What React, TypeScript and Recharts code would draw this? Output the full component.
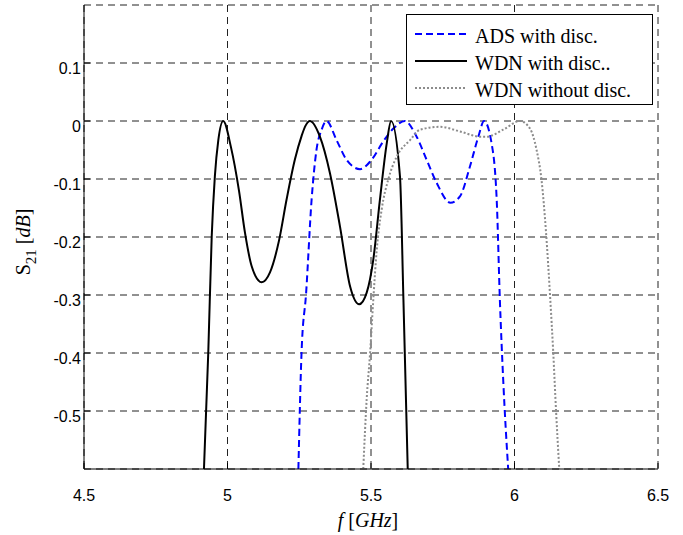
import React from "react"
import { LineChart, Line, XAxis, YAxis, CartesianGrid, Legend, Label } from "recharts"

type Pt = { f: number; s: number }

// WDN with disc. (black solid)
const wdnDisc: Pt[] = [
  { f: 4.918, s: -0.6 }, { f: 4.933, s: -0.399 }, { f: 4.945, s: -0.199 }, { f: 4.956, s: -0.095 },
  { f: 4.968, s: -0.033 }, { f: 4.985, s: 0 }, { f: 5.012, s: -0.045 }, { f: 5.04, s: -0.12 },
  { f: 5.061, s: -0.193 }, { f: 5.084, s: -0.25 }, { f: 5.119, s: -0.278 }, { f: 5.148, s: -0.261 },
  { f: 5.18, s: -0.205 }, { f: 5.206, s: -0.135 }, { f: 5.235, s: -0.066 }, { f: 5.258, s: -0.026 },
  { f: 5.272, s: -0.008 }, { f: 5.287, s: 0 }, { f: 5.322, s: -0.027 }, { f: 5.357, s: -0.09 },
  { f: 5.392, s: -0.182 }, { f: 5.427, s: -0.285 }, { f: 5.459, s: -0.316 }, { f: 5.485, s: -0.296 },
  { f: 5.508, s: -0.239 }, { f: 5.531, s: -0.136 }, { f: 5.555, s: -0.038 }, { f: 5.57, s: 0 },
  { f: 5.601, s: -0.096 }, { f: 5.613, s: -0.308 }, { f: 5.628, s: -0.6 },
]

// ADS with disc. (blue dashed)
const adsDisc: Pt[] = [
  { f: 5.247, s: -0.6 }, { f: 5.258, s: -0.399 }, { f: 5.274, s: -0.296 }, { f: 5.293, s: -0.136 },
  { f: 5.31, s: -0.05 }, { f: 5.328, s: -0.015 }, { f: 5.345, s: 0 }, { f: 5.38, s: -0.033 },
  { f: 5.415, s: -0.067 }, { f: 5.462, s: -0.083 }, { f: 5.502, s: -0.067 }, { f: 5.543, s: -0.035 },
  { f: 5.578, s: -0.013 }, { f: 5.618, s: 0 }, { f: 5.659, s: -0.027 }, { f: 5.694, s: -0.067 },
  { f: 5.729, s: -0.107 }, { f: 5.777, s: -0.141 }, { f: 5.81, s: -0.13 }, { f: 5.845, s: -0.078 },
  { f: 5.874, s: -0.027 }, { f: 5.894, s: 0 }, { f: 5.92, s: -0.038 }, { f: 5.938, s: -0.136 },
  { f: 5.949, s: -0.308 }, { f: 5.961, s: -0.45 }, { f: 5.978, s: -0.6 },
]

// WDN without disc. (gray dotted)
const wdnNoDisc: Pt[] = [
  { f: 5.473, s: -0.6 }, { f: 5.485, s: -0.479 }, { f: 5.497, s: -0.399 }, { f: 5.508, s: -0.308 },
  { f: 5.52, s: -0.222 }, { f: 5.537, s: -0.153 }, { f: 5.56, s: -0.101 }, { f: 5.59, s: -0.061 },
  { f: 5.636, s: -0.033 }, { f: 5.671, s: -0.015 }, { f: 5.74, s: -0.01 }, { f: 5.81, s: -0.018 },
  { f: 5.88, s: -0.027 }, { f: 5.903, s: -0.027 }, { f: 5.961, s: -0.015 }, { f: 6.019, s: 0 },
  { f: 6.054, s: -0.013 }, { f: 6.077, s: -0.05 }, { f: 6.094, s: -0.101 }, { f: 6.11, s: -0.193 },
  { f: 6.124, s: -0.302 }, { f: 6.135, s: -0.399 }, { f: 6.145, s: -0.502 }, { f: 6.156, s: -0.6 },
]

const xTicks = [4.5, 5, 5.5, 6, 6.5]
const yTicks = [-0.5, -0.4, -0.3, -0.2, -0.1, 0, 0.1]

const series = [
  { key: "ads", name: "ADS with disc.", data: adsDisc, color: "#0000ff", dash: "7 4" },
  { key: "wdn", name: "WDN with disc..", data: wdnDisc, color: "#000000", dash: undefined },
  { key: "wdn0", name: "WDN without disc.", data: wdnNoDisc, color: "#8c8c8c", dash: "2 2" },
]

const serif = "'Liberation Serif', 'Times New Roman', serif"
const sans = "'Liberation Sans', Arial, sans-serif"

function LegendBox() {
  return (
    <div style={{ border: "1px solid #000", background: "#fff", width: 245, padding: "8px 0 0 0", fontFamily: serif, fontSize: 20 }}>
      {series.map((s) => (
        <div key={s.key} style={{ display: "flex", alignItems: "center", height: 27, whiteSpace: "nowrap" }}>
          <svg width={60} height={10} style={{ marginLeft: 8, position: "relative", top: -3 }}>
            <line x1={0} y1={5} x2={52} y2={5} stroke={s.color} strokeWidth={2} strokeDasharray={s.dash} />
          </svg>
          <span style={{ color: "#000" }}>{s.name}</span>
        </div>
      ))}
    </div>
  )
}

function YTitle() {
  const cx = 23
  const cy = 242
  return (
    <text x={cx} y={cy} transform={`rotate(-90 ${cx} ${cy})`} textAnchor="middle" dominantBaseline="central" fontFamily={serif} fontSize={20} fill="#000">
      S<tspan baselineShift="sub" fontSize={15}>21</tspan><tspan> [</tspan><tspan fontStyle="italic">dB</tspan>]
    </text>
  )
}

function XTitle() {
  return (
    <text x={368} y={527} textAnchor="middle" fontFamily={serif} fontSize={20} fill="#000">
      <tspan fontStyle="italic">f</tspan> [<tspan fontStyle="italic">GHz</tspan>]
    </text>
  )
}

const tickFont = { fill: "#000", fontFamily: sans, fontSize: 16 }

export default function App() {
  return (
    <div style={{ position: "absolute", left: 0, top: 0, width: 683, height: 535, background: "#fff" }}>
      <LineChart width={683} height={535} margin={{ top: 5, right: 25, left: 0, bottom: 36 }}>
        <CartesianGrid stroke="#222" strokeDasharray="7 5" strokeWidth={1} />
        <XAxis
          dataKey="f"
          type="number"
          domain={[4.5, 6.5]}
          ticks={xTicks}
          allowDataOverflow
          height={30}
          tickSize={-6}
          tickLine={{ stroke: "#000" }}
          axisLine={{ stroke: "#000" }}
          tick={tickFont}
          tickMargin={27}
        >
          <Label content={<XTitle />} />
        </XAxis>
        <XAxis xAxisId="top" orientation="top" type="number" domain={[4.5, 6.5]} ticks={xTicks} height={0} tick={false} tickSize={-6} tickLine={{ stroke: "#000" }} axisLine={{ stroke: "#000" }} />
        <YAxis
          type="number"
          domain={[-0.6, 0.2]}
          ticks={yTicks}
          allowDataOverflow
          width={84}
          tickSize={-6}
          tickLine={{ stroke: "#000" }}
          axisLine={{ stroke: "#000" }}
          tick={{ ...tickFont, dy: 5 }}
          tickMargin={9}
        >
          <Label content={<YTitle />} />
        </YAxis>
        <YAxis yAxisId="right" orientation="right" type="number" domain={[-0.6, 0.2]} ticks={yTicks} width={0} tick={false} tickSize={-6} tickLine={{ stroke: "#000" }} axisLine={{ stroke: "#000" }} />
        {series.map((s) => (
          <Line
            key={s.key}
            data={s.data}
            dataKey="s"
            name={s.name}
            type="monotone"
            stroke={s.color}
            strokeWidth={2}
            strokeDasharray={s.dash}
            dot={false}
            isAnimationActive={false}
          />
        ))}
        <Legend
          layout="vertical"
          align="center"
          verticalAlign="middle"
          content={<LegendBox />}
          wrapperStyle={{ left: 406, top: 14, width: 247 }}
        />
      </LineChart>
    </div>
  )
}
